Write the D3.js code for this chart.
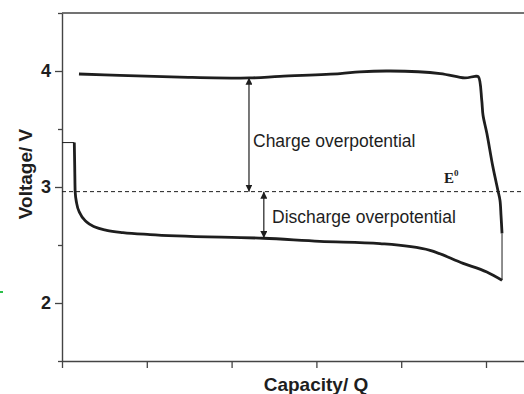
<!DOCTYPE html>
<html>
<head>
<meta charset="utf-8">
<script src="https://cdn.jsdelivr.net/npm/d3@7"></script>
<style>
  html, body { margin: 0; padding: 0; background: #fff; }
  svg { display: block; }
</style>
</head>
<body>
<svg id="chart" width="524" height="394"></svg>
<script>
// Galvanostatic charge / discharge profile (capacity in arbitrary units, voltage in V)
const chargeQ = [0.20, 0.68, 1.39, 2.21, 2.57, 3.28, 3.51, 3.87, 4.46, 4.75, 4.87, 4.91, 4.95, 4.965, 5.01, 5.08, 5.14, 5.165, 5.177, 5.189];
const chargeV = [3.974, 3.963, 3.948, 3.940, 3.954, 3.978, 3.993, 4.000, 3.978, 3.940, 3.954, 3.950, 3.747, 3.618, 3.463, 3.178, 2.972, 2.885, 2.756, 2.600];

const dischargeQ = [0.145, 0.150, 0.155, 0.173, 0.212, 0.291, 0.389, 0.527, 0.719, 1.038, 1.352, 2.38, 3.04, 3.75, 4.34, 4.73, 5.01, 5.189];
const dischargeV = [3.383, 3.172, 2.960, 2.859, 2.773, 2.698, 2.655, 2.627, 2.607, 2.590, 2.578, 2.558, 2.532, 2.512, 2.454, 2.342, 2.267, 2.196];

// Thin connecting segments: open-circuit start and the charge-end step
const restStartQ = [0, 0.145];
const restStartV = [3.383, 3.383];
const restEndQ = [5.189, 5.189];
const restEndV = [2.600, 2.196];

const E0 = 2.96;

// Overpotential arrows
const chargeArrowQ = 2.205;
const chargeArrowV = [3.942, E0];
const dischargeArrowQ = 2.38;
const dischargeArrowV = [E0, 2.560];

const xTicks = [0, 1, 2, 3, 4, 5];
const yMajor = [2, 3, 4];
const yMinor = [1.5, 2.5, 3.5, 4.5];

const svg = d3.select("#chart");
const ink = "#1e1e1e";
const axisInk = "#444";

const x = d3.scaleLinear().domain([0, 5.5]).range([62, 528.4]);
const y = d3.scaleLinear().domain([1.5, 4.5]).range([361, 13]);

// Arrow heads
const defs = svg.append("defs");
defs.append("marker")
  .attr("id", "head")
  .attr("viewBox", "0 0 10 10")
  .attr("refX", 10).attr("refY", 5)
  .attr("markerWidth", 7).attr("markerHeight", 7)
  .attr("markerUnits", "userSpaceOnUse")
  .attr("orient", "auto-start-reverse")
  .append("path")
  .attr("d", "M0,0 L10,5 L0,10 Z")
  .attr("fill", ink);

// Axes
const yAxis = d3.axisLeft(y).tickValues(yMajor).tickSize(7).tickSizeOuter(0).tickPadding(4).tickFormat(d3.format("d"));
const yMinorAxis = d3.axisLeft(y).tickValues(yMinor).tickSize(4).tickSizeOuter(0).tickFormat("");
const xAxis = d3.axisBottom(x).tickValues(xTicks).tickSize(7).tickSizeOuter(0).tickFormat("");

const gy = svg.append("g").attr("transform", `translate(${x(0)},0)`).call(yAxis);
const gyMinor = svg.append("g").attr("transform", `translate(${x(0)},0)`).call(yMinorAxis);
gyMinor.select(".domain").remove();
const gx = svg.append("g").attr("transform", `translate(0,${y(1.5)})`).call(xAxis);

[gy, gyMinor, gx].forEach(g => {
  g.selectAll(".domain").attr("stroke", axisInk).attr("stroke-width", 1.4);
  g.selectAll(".tick line").attr("stroke", axisInk).attr("stroke-width", 1.3);
});
gy.selectAll(".tick text")
  .attr("font-family", "Liberation Sans, Arial, sans-serif")
  .attr("font-weight", "bold")
  .attr("font-size", 18)
  .attr("fill", ink);

// Top frame line
svg.append("line")
  .attr("x1", x(0)).attr("x2", x(5.5))
  .attr("y1", y(4.5)).attr("y2", y(4.5))
  .attr("stroke", axisInk).attr("stroke-width", 1.4);

// E0 reference line
svg.append("line")
  .attr("x1", x(0)).attr("x2", x(5.5))
  .attr("y1", y(E0)).attr("y2", y(E0))
  .attr("stroke", ink).attr("stroke-width", 1)
  .attr("stroke-dasharray", "4,3");

// Curves
const chargeLine = d3.line()
  .x(d => x(d[0])).y(d => y(d[1]))
  .curve(d3.curveCatmullRom.alpha(0.5));
const dischargeLine = d3.line()
  .x(d => x(d[0])).y(d => y(d[1]))
  .curve(d3.curveMonotoneX);
const straight = d3.line().x(d => x(d[0])).y(d => y(d[1]));

const zip = (a, b) => a.map((v, i) => [v, b[i]]);

svg.append("path")
  .attr("d", straight(zip(restStartQ, restStartV)))
  .attr("fill", "none").attr("stroke", ink).attr("stroke-width", 1);
svg.append("path")
  .attr("d", straight(zip(restEndQ, restEndV)))
  .attr("fill", "none").attr("stroke", ink).attr("stroke-width", 1);

svg.append("path")
  .attr("d", chargeLine(zip(chargeQ, chargeV)))
  .attr("fill", "none").attr("stroke", ink)
  .attr("stroke-width", 2.8).attr("stroke-linejoin", "round");
svg.append("path")
  .attr("d", dischargeLine(zip(dischargeQ, dischargeV)))
  .attr("fill", "none").attr("stroke", ink)
  .attr("stroke-width", 2.8).attr("stroke-linejoin", "round");

// Double-headed arrows
function arrow(q, v) {
  svg.append("line")
    .attr("x1", x(q)).attr("x2", x(q))
    .attr("y1", y(v[0])).attr("y2", y(v[1]))
    .attr("stroke", ink).attr("stroke-width", 1.2)
    .attr("marker-start", "url(#head)")
    .attr("marker-end", "url(#head)");
}
arrow(chargeArrowQ, chargeArrowV);
arrow(dischargeArrowQ, dischargeArrowV);

// Annotations
const sans = "Liberation Sans, Arial, sans-serif";
svg.append("text")
  .attr("x", 253).attr("y", 147)
  .attr("font-family", sans).attr("font-size", 17.5).attr("fill", ink)
  .text("Charge overpotential");
svg.append("text")
  .attr("x", 272).attr("y", 223)
  .attr("font-family", sans).attr("font-size", 17.5).attr("fill", ink)
  .text("Discharge overpotential");

const e0 = svg.append("text")
  .attr("x", 444).attr("y", 183)
  .attr("font-family", "Liberation Serif, Times New Roman, serif")
  .attr("font-weight", "bold").attr("font-size", 15).attr("fill", ink);
e0.append("tspan").text("E");
e0.append("tspan").attr("dy", -7).attr("font-size", 9).text("0");

// Axis titles
svg.append("text")
  .attr("x", 316).attr("y", 391)
  .attr("text-anchor", "middle")
  .attr("font-family", sans).attr("font-weight", "bold").attr("font-size", 19)
  .attr("fill", ink)
  .text("Capacity/ Q");
svg.append("text")
  .attr("transform", "translate(32,174) rotate(-90)")
  .attr("text-anchor", "middle")
  .attr("font-family", sans).attr("font-weight", "bold").attr("font-size", 19)
  .attr("fill", ink)
  .text("Voltage/ V");

// Small green mark at the left edge
svg.append("line")
  .attr("x1", 0).attr("x2", 3)
  .attr("y1", 292).attr("y2", 292)
  .attr("stroke", "#2dbf4a").attr("stroke-width", 2);
</script>
</body>
</html>
